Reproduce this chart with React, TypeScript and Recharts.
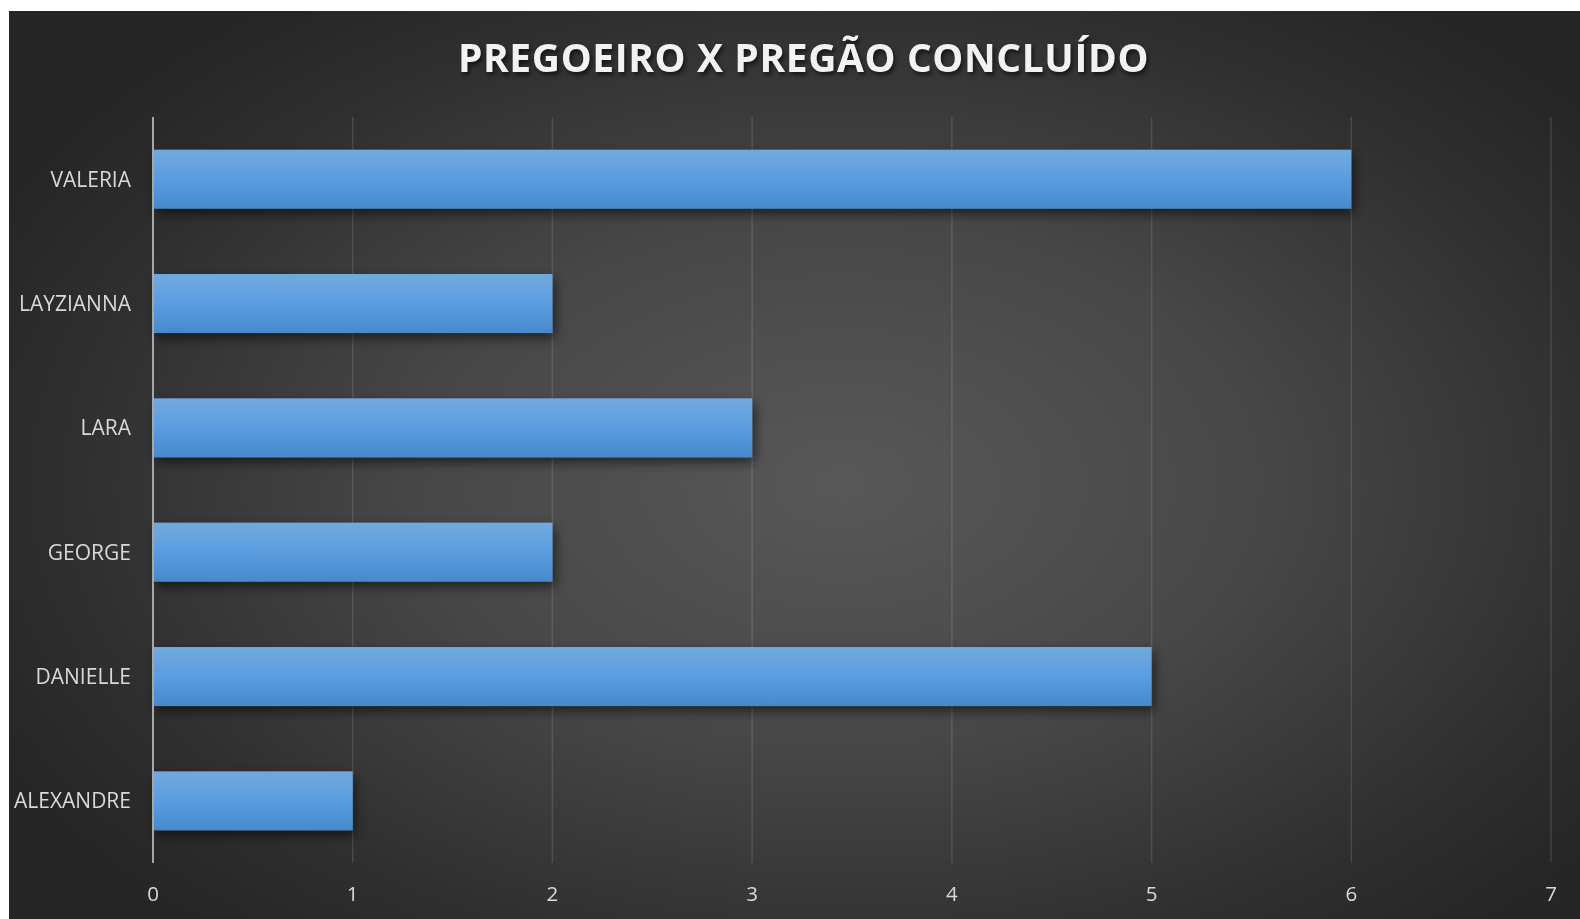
import { BarChart, Bar, XAxis, YAxis, CartesianGrid } from 'recharts';

const nomes = ['VALERIA', 'LAYZIANNA', 'LARA', 'GEORGE', 'DANIELLE', 'ALEXANDRE'];
const concluidos = [6, 2, 3, 2, 5, 1];
const xTicks = [0, 1, 2, 3, 4, 5, 6, 7];

const data = nomes.map((nome, i) => ({ nome, valor: concluidos[i] }));

const W = 1571;
const H = 908;
const font = '"Open Sans", "Noto Sans", sans-serif';

function ShadowBar(props: any) {
  const { x, y, width, height } = props;
  if (!width || width <= 0) return null;
  return (
    <rect
      x={x}
      y={y}
      width={width}
      height={height}
      fill="url(#barGrad)"
      filter="url(#barShadow)"
    />
  );
}

export default function App() {
  return (
    <div
      style={{
        position: 'fixed',
        left: 9,
        top: 11,
        width: W,
        height: H,
        overflow: 'hidden',
        background:
          'radial-gradient(ellipse 60% 65% at 53% 52%, #585858 0%, #474747 45%, #2f2f2f 82%, #262626 100%)',
        fontFamily: font,
      }}
    >
      <svg width={0} height={0} style={{ position: 'absolute' }}>
        <defs>
          <linearGradient id="barGrad" x1="0" y1="0" x2="0" y2="1">
            <stop offset="0%" stopColor="#72a9de" />
            <stop offset="50%" stopColor="#5a9de0" />
            <stop offset="100%" stopColor="#468acb" />
          </linearGradient>
          <filter id="barShadow" x="-5%" y="-30%" width="115%" height="180%">
            <feDropShadow dx="3" dy="5" stdDeviation="6" floodColor="#000" floodOpacity="0.55" />
          </filter>
        </defs>
      </svg>
      <div
        style={{
          position: 'absolute',
          top: 19,
          left: 9,
          width: W,
          textAlign: 'center',
          color: '#f2f2f2',
          fontSize: 39,
          fontWeight: 700,
          letterSpacing: 0.6,
          textShadow: '2px 3px 4px rgba(0,0,0,0.6)',
        }}
      >
        PREGOEIRO X PREGÃO CONCLUÍDO
      </div>
      <BarChart
        width={W}
        height={H}
        data={data}
        layout="vertical"
        margin={{ top: 106, right: 29, left: 0, bottom: 0 }}
        barCategoryGap="26.3%"
        style={{ position: 'absolute', left: 0, top: 0 }}
      >
        <CartesianGrid
          horizontal={false}
          stroke="#ffffff"
          strokeOpacity={0.12}
          strokeWidth={1.5}
        />
        <XAxis
          type="number"
          domain={[0, 7]}
          ticks={xTicks}
          axisLine={false}
          tickLine={false}
          tickSize={0}
          tickMargin={23}
          height={56}
          tick={{ fill: '#d9d9d9', fontSize: 20.5, fontFamily: font }}
        />
        <YAxis
          type="category"
          dataKey="nome"
          width={144}
          axisLine={{ stroke: '#a6a6a6', strokeWidth: 2 }}
          tickLine={false}
          tickSize={0}
          tickMargin={22}
          tick={{ fill: '#d9d9d9', fontSize: 21, fontFamily: font }}
        />
        <Bar dataKey="valor" shape={<ShadowBar />} isAnimationActive={false} />
      </BarChart>
    </div>
  );
}
